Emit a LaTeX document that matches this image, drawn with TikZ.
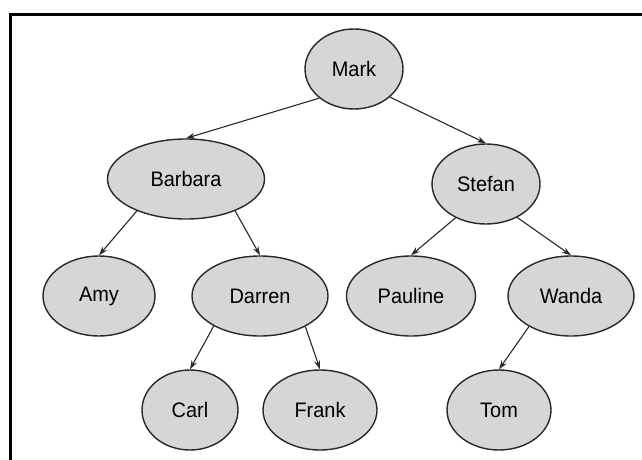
\documentclass[tikz,border=0pt]{standalone}
\usepackage{fontspec}
\setmainfont{Liberation Sans}[FakeStretch=0.95]
\usepackage{tikz}
\usetikzlibrary{arrows.meta, shapes.geometric, positioning}
\definecolor{nodegray}{RGB}{214,214,214}
\definecolor{linegray}{RGB}{40,40,40}
\tikzstyle{arrow} = [-{Stealth[length=9pt, width=6pt]}, line width=1.1pt, draw=linegray]
\tikzstyle{person} = [draw=linegray, fill=nodegray, ellipse, line width=1.4pt, inner sep=0, minimum height=80pt, font=\fontsize{21}{24}\selectfont]
\tikzstyle{frame} = [line width=3pt, black]

\begin{document}
\begin{tikzpicture}[x=1pt, y=-1pt, on grid]
        \useasboundingbox (0,0) rectangle (642,460);
        \draw [frame] (10.5,460) -- (10.5,15) -- (642,15);

        \node [person, minimum width=98pt] at (354,69) (mark) {Mark};
        \node [person, minimum width=157pt, below left=110pt and 168pt of mark] (barbara) {Barbara};
        \node [person, minimum width=108pt, below right=115pt and 132pt of mark] (stefan) {Stefan};
        \node [person, minimum width=112pt, below left=117pt and 87pt of barbara] (amy) {Amy};
        \node [person, minimum width=136pt, below right=117pt and 74pt of barbara] (darren) {Darren};
        \node [person, minimum width=129pt, below left=112pt and 75pt of stefan] (pauline) {Pauline};
        \node [person, minimum width=126pt, below right=112pt and 85pt of stefan] (wanda) {Wanda};
        \node [person, minimum width=96pt, below left=114pt and 70pt of darren] (carl) {Carl};
        \node [person, minimum width=114pt, below right=114pt and 60pt of darren] (frank) {Frank};
        \node [person, minimum width=104pt, below left=114pt and 72pt of wanda] (tom) {Tom};

        \path (mark.220) edge [arrow] (barbara.north);
        \path (mark.322) edge [arrow] (stefan.north);
        \path (barbara.213) edge [arrow] (amy.north);
        \path (barbara.327) edge [arrow] (darren.north);
        \path (stefan.228) edge [arrow] (pauline.north);
        \path (stefan.313) edge [arrow] (wanda.north);
        \path (darren.213) edge [arrow] (carl.north);
        \path (darren.326) edge [arrow] (frank.north);
        \path (wanda.216) edge [arrow] (tom.north);
    \end{tikzpicture}
\end{document}
